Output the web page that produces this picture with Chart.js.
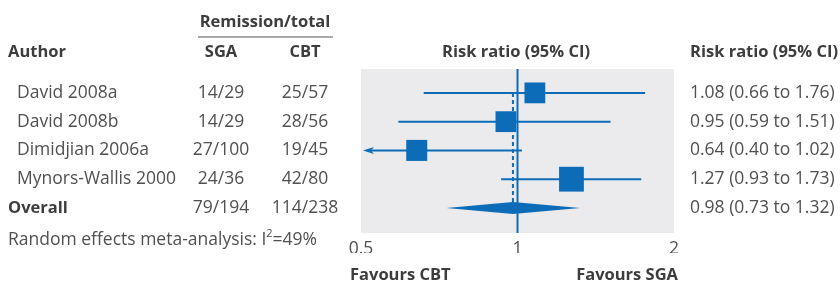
<!DOCTYPE html>
<html>
<head>
<meta charset="utf-8">
<script src="https://cdn.jsdelivr.net/npm/chart.js@4/dist/chart.umd.min.js"></script>
<style>
  body { margin: 0; background: #fff; }
  #wrap { width: 840px; height: 284px; }
</style>
</head>
<body>
<div id="wrap"><canvas id="forest" width="840" height="284"></canvas></div>
<script>
const authors = ["David 2008a", "David 2008b", "Dimidjian 2006a", "Mynors-Wallis 2000"];
const sgaRemit = [14, 14, 27, 24];
const sgaTotal = [29, 29, 100, 36];
const cbtRemit = [25, 28, 19, 42];
const cbtTotal = [57, 56, 45, 80];
const riskRatio = [1.08, 0.95, 0.64, 1.27];
const ciLow = [0.66, 0.59, 0.40, 0.93];
const ciHigh = [1.76, 1.51, 1.02, 1.73];
const weights = [22.5, 22.5, 23, 32];
const overall = { rr: 0.98, lo: 0.73, hi: 1.32, sga: "79/194", cbt: "114/238" };
const i2 = 49;
const xTicks = [0.5, 1, 2];

const BLUE = "#0d6cb8";
const TEXT = "#505050";
const HEAD = "#3d3d3d";
const FONT = "'Open Sans', sans-serif";

const fmt = (v) => v.toFixed(2);

const forestPlugin = {
  id: "forest",
  beforeDatasetsDraw(chart) {
    const { ctx, chartArea: a, scales } = chart;
    const x = scales.x, y = scales.y;
    ctx.save();
    ctx.fillStyle = "#ebebed";
    ctx.fillRect(a.left, a.top, a.right - a.left, a.bottom - a.top);

    // confidence intervals
    ctx.strokeStyle = BLUE;
    ctx.fillStyle = BLUE;
    ctx.lineWidth = 2;
    riskRatio.forEach((rr, i) => {
      const py = y.getPixelForValue(i + 1);
      const clipped = ciLow[i] < x.min;
      const x1 = clipped ? a.left + 2 : x.getPixelForValue(ciLow[i]);
      const x2 = x.getPixelForValue(Math.min(ciHigh[i], x.max));
      ctx.beginPath();
      ctx.moveTo(x1 + (clipped ? 6 : 0), py);
      ctx.lineTo(x2, py);
      ctx.stroke();
      if (clipped) {
        ctx.beginPath();
        ctx.moveTo(x1, py);
        ctx.lineTo(x1 + 11, py - 3.5);
        ctx.lineTo(x1 + 8, py);
        ctx.lineTo(x1 + 11, py + 3.5);
        ctx.closePath();
        ctx.fill();
      }
    });

    // overall diamond
    const dy = y.getPixelForValue(5);
    ctx.beginPath();
    ctx.moveTo(x.getPixelForValue(overall.lo), dy);
    ctx.lineTo(x.getPixelForValue(overall.rr), dy - 6);
    ctx.lineTo(x.getPixelForValue(overall.hi), dy);
    ctx.lineTo(x.getPixelForValue(overall.rr), dy + 6);
    ctx.closePath();
    ctx.fill();

    // dashed line at overall estimate
    const ox = x.getPixelForValue(overall.rr);
    ctx.setLineDash([4, 3]);
    ctx.beginPath();
    ctx.moveTo(ox, y.getPixelForValue(1));
    ctx.lineTo(ox, dy - 5);
    ctx.stroke();
    ctx.setLineDash([]);

    // line of no effect
    const nx = x.getPixelForValue(1);
    ctx.beginPath();
    ctx.moveTo(nx, a.top);
    ctx.lineTo(nx, a.bottom);
    ctx.stroke();
    ctx.restore();
  },
  afterDraw(chart) {
    const { ctx, scales } = chart;
    const y = scales.y;
    const norm = "17.5px " + FONT;
    const bold = "bold 16.5px " + FONT;
    ctx.save();
    ctx.textBaseline = "middle";

    // headers
    ctx.fillStyle = HEAD;
    ctx.font = bold;
    ctx.textAlign = "center";
    ctx.fillText("Remission/total", 265, 22);
    ctx.fillText("SGA", 221, 52);
    ctx.fillText("CBT", 305, 52);
    ctx.fillText("Risk ratio (95% CI)", 516, 52);
    ctx.textAlign = "left";
    ctx.fillText("Author", 8, 52);
    ctx.fillText("Risk ratio (95% CI)", 690, 52);
    ctx.fillText("Favours CBT", 350, 275);
    ctx.textAlign = "right";
    ctx.fillText("Favours SGA", 678, 275);

    ctx.strokeStyle = "#555";
    ctx.lineWidth = 1.2;
    ctx.beginPath();
    ctx.moveTo(198, 37);
    ctx.lineTo(333, 37);
    ctx.stroke();

    // study rows
    ctx.fillStyle = TEXT;
    ctx.font = norm;
    authors.forEach((name, i) => {
      const py = y.getPixelForValue(i + 1);
      ctx.textAlign = "left";
      ctx.fillText(name, 17, py);
      ctx.fillText(fmt(riskRatio[i]) + " (" + fmt(ciLow[i]) + " to " + fmt(ciHigh[i]) + ")", 690, py);
      ctx.textAlign = "center";
      ctx.fillText(sgaRemit[i] + "/" + sgaTotal[i], 221, py);
      ctx.fillText(cbtRemit[i] + "/" + cbtTotal[i], 305, py);
    });

    // overall row
    const oy = y.getPixelForValue(5);
    ctx.textAlign = "center";
    ctx.fillText(overall.sga, 221, oy);
    ctx.fillText(overall.cbt, 305, oy);
    ctx.textAlign = "left";
    ctx.fillText(fmt(overall.rr) + " (" + fmt(overall.lo) + " to " + fmt(overall.hi) + ")", 690, oy);
    ctx.fillStyle = HEAD;
    ctx.font = bold;
    ctx.fillText("Overall", 8, oy);

    // heterogeneity note
    ctx.fillStyle = TEXT;
    ctx.font = norm;
    let tx = 8;
    const t1 = "Random effects meta-analysis: I";
    ctx.fillText(t1, tx, 240);
    tx += ctx.measureText(t1).width;
    ctx.font = "11px " + FONT;
    ctx.fillText("2", tx, 234);
    tx += ctx.measureText("2").width;
    ctx.font = norm;
    ctx.fillText("=" + i2 + "%", tx, 240);
    ctx.restore();
  },
};

new Chart(document.getElementById("forest"), {
  type: "scatter",
  data: {
    datasets: [{
      data: riskRatio.map((v, i) => ({ x: v, y: i + 1 })),
      backgroundColor: BLUE,
      borderWidth: 0,
      pointStyle: "rect",
      pointRadius: weights.map((w) => Math.sqrt(w) * 3.1),
      pointHoverRadius: weights.map((w) => Math.sqrt(w) * 3.1),
    }],
  },
  options: {
    responsive: false,
    animation: false,
    devicePixelRatio: 1,
    layout: { padding: { left: 361, right: 166, top: 69, bottom: 31 } },
    plugins: { legend: { display: false }, tooltip: { enabled: false } },
    scales: {
      x: {
        type: "logarithmic",
        min: 0.5,
        max: 2,
        afterBuildTicks: (s) => { s.ticks = xTicks.map((v) => ({ value: v })); },
        afterFit: (s) => { s.height = 20; },
        grid: { display: false, drawTicks: false },
        border: { display: false },
        ticks: {
          padding: 6,
          autoSkip: false,
          maxRotation: 0,
          color: TEXT,
          font: { family: "Open Sans", size: 17.5 },
          callback: (v) => String(v),
        },
      },
      y: { type: "linear", min: 0.17, max: 5.87, reverse: true, display: false },
    },
  },
  plugins: [forestPlugin],
});
</script>
</body>
</html>
